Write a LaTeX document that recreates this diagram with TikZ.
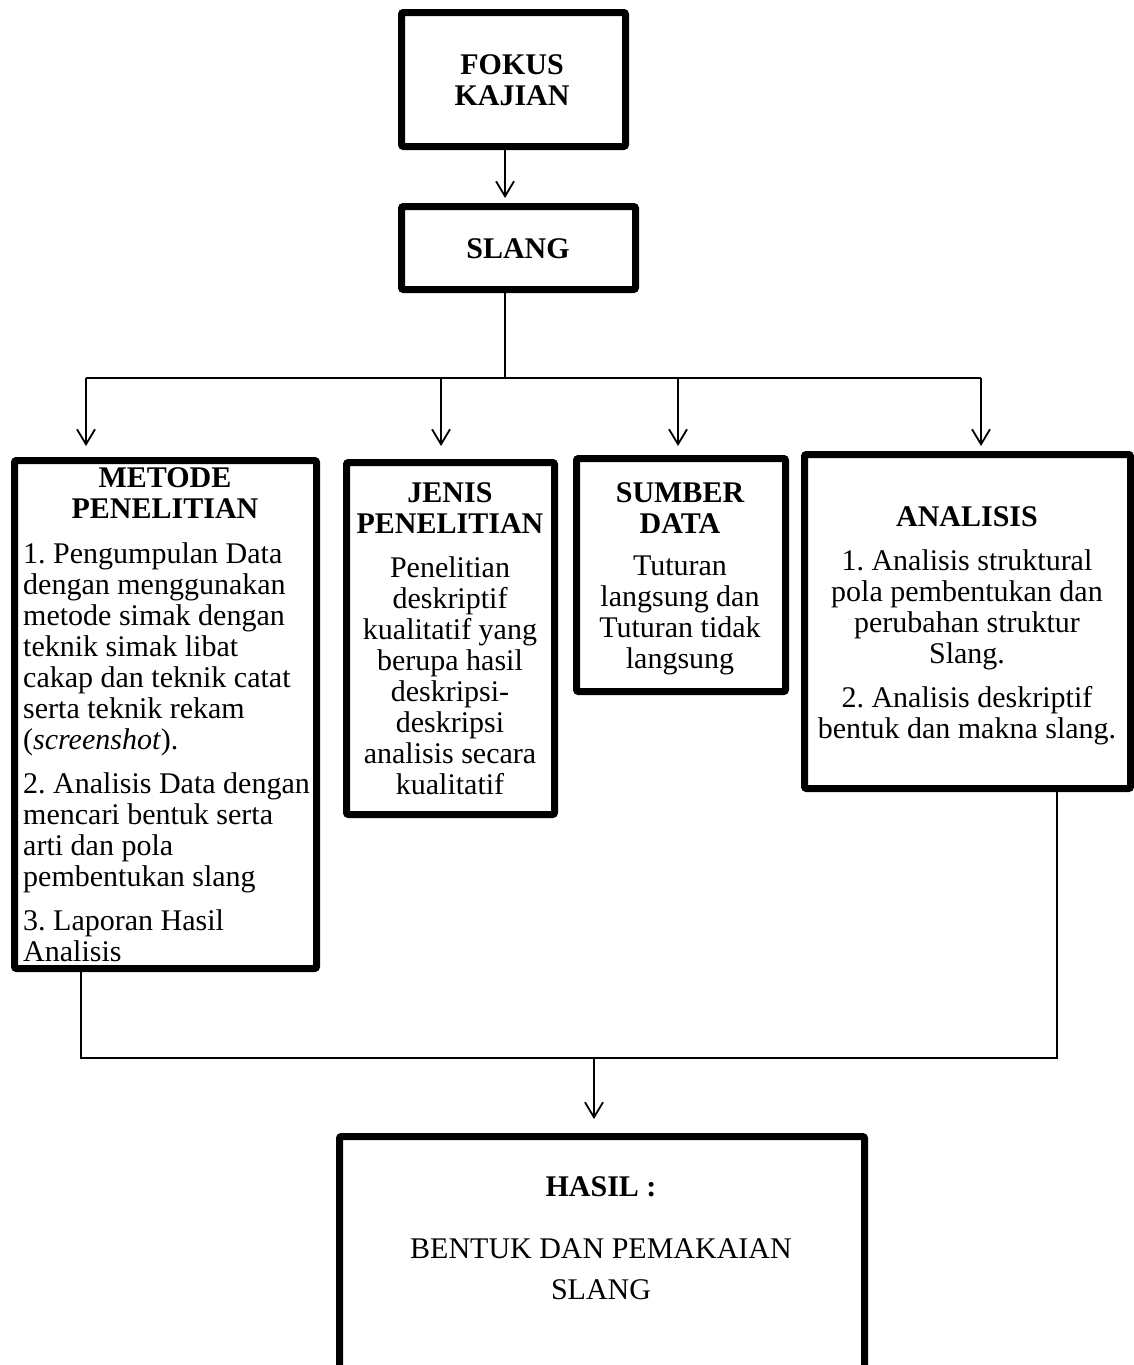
\documentclass[tikz,border=0pt]{standalone}
\usepackage{fontspec}
\setmainfont{Liberation Serif}
\usetikzlibrary{arrows.meta,shadows}
\frenchspacing
\begin{document}
\begin{tikzpicture}[x=1pt,y=-1pt,
  box/.style={draw=black, line width=7pt, fill=white, rounded corners=2pt,
    drop shadow={shadow xshift=2pt, shadow yshift=-2pt, opacity=.3, fill=black}},
  txt/.style={inner sep=0pt, align=center, font=\fontsize{30}{31}\selectfont},
  ttl/.style={txt, font=\fontsize{30}{31}\selectfont\bfseries},
  conn/.style={line width=1.8pt},
  arr/.style={conn, -{Straight Barb[length=15pt,width=18pt,line width=1.8pt]}}]
\useasboundingbox (0,0) rectangle (1134,1365);
\clip (0,0) rectangle (1134,1365);
% boxes
\node[box, minimum width=224pt, minimum height=134pt] (fokus) at (513.5,79.5) {};
\node[box, minimum width=234pt, minimum height=83pt] (slang) at (518.5,248) {};
\node[box, minimum width=302pt, minimum height=508pt] (metode) at (165.5,714.5) {};
\node[box, minimum width=208pt, minimum height=352pt] (jenis) at (450.5,638.5) {};
\node[box, minimum width=209pt, minimum height=233pt] (sumber) at (681,575) {};
\node[box, minimum width=326pt, minimum height=334pt] (analisis) at (967.5,621.5) {};
\node[box, minimum width=525pt, minimum height=300pt] (hasil) at (602,1286.5) {};
% texts
\node[ttl, anchor=north] (tfokus) at (512,54) {FOKUS\\KAJIAN};
\node[ttl, anchor=north] (tslang) at (518,238) {SLANG};
\node[ttl, anchor=north] (tmetode) at (165,467) {METODE\\PENELITIAN};
\node[txt, anchor=north west, align=left] (bmetode) at (23,542) {1. Pengumpulan Data\\dengan menggunakan\\metode simak dengan\\teknik simak libat\\cakap dan teknik catat\\serta teknik rekam\\(\textit{screenshot}).\\[13pt]2. Analisis Data dengan\\mencari bentuk serta\\arti dan pola\\pembentukan slang\\[13pt]3. Laporan Hasil\\Analisis};
\node[ttl, anchor=north] (tjenis) at (450,482) {JENIS\\PENELITIAN};
\node[txt, anchor=north] (bjenis) at (450,556) {Penelitian\\deskriptif\\kualitatif yang\\berupa hasil\\deskripsi-\\deskripsi\\analisis secara\\kualitatif};
\node[ttl, anchor=north] (tsumber) at (680,482) {SUMBER\\DATA};
\node[txt, anchor=north] (bsumber) at (680,556) {Tuturan\\langsung dan\\Tuturan tidak\\langsung};
\node[ttl, anchor=north] (tanalisis) at (967,506) {ANALISIS};
\node[txt, anchor=north] (banalisis) at (967,549) {1. Analisis struktural\\pola pembentukan dan\\perubahan struktur\\Slang.\\[13pt]2. Analisis deskriptif\\bentuk dan makna slang.};
\node[ttl, anchor=north] (thasil) at (601,1176) {HASIL :};
\node[txt, anchor=north, font=\fontsize{30}{41}\selectfont] (bhasil) at (601,1238) {BENTUK DAN PEMAKAIAN\\SLANG};
% connectors
\coordinate (j0) at (505,378);
\coordinate (a1) at (86,378);
\coordinate (a2) at (441,378);
\coordinate (a3) at (678,378);
\coordinate (a4) at (981,378);
\coordinate (b1) at (81,1058);
\coordinate (b2) at (1057,1058);
\coordinate (b0) at (594,1058);
\draw[arr, shorten >=5pt] (fokus.south -| j0) -- (slang.north -| j0);
\draw[conn] (slang.south -| j0) -- (j0);
\draw[conn] (a1) -- (a4);
\draw[arr, shorten >=11pt] (a1) -- (a1 |- metode.north);
\draw[arr, shorten >=13pt] (a2) -- (a2 |- jenis.north);
\draw[arr, shorten >=9pt] (a3) -- (a3 |- sumber.north);
\draw[arr, shorten >=5pt] (a4) -- (a4 |- analisis.north);
\draw[conn] (metode.south -| b1) -- (b1) -- (b2) -- (analisis.south -| b2);
\draw[arr, shorten >=14pt] (b0) -- (b0 |- hasil.north);
\end{tikzpicture}
\end{document}
